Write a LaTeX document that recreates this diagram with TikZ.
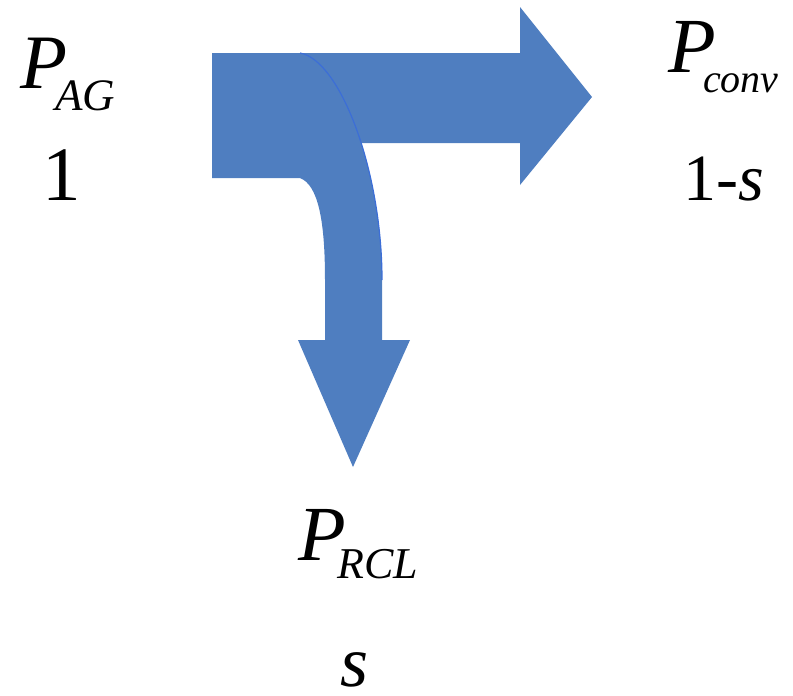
\documentclass[tikz,border=0pt]{standalone}
\usepackage{fontspec}
\setmainfont{Liberation Serif}
\definecolor{arrowblue}{RGB}{79,126,192}
\definecolor{seamblue}{RGB}{60,110,215}
\tikzset{
  lbl/.style={inner sep=0pt, anchor=base west, text depth=0pt},
  flow/.style={fill=arrowblue, draw=none}
}
\newcommand{\fsz}[1]{\fontsize{#1}{#1}\selectfont}
\newcommand{\psub}[5]{{\fsz{#1}\itshape P}\kern#3pt\raisebox{-#4pt}{\fsz{#2}\itshape #5}}
\begin{document}
\begin{tikzpicture}[x=1pt,y=-1pt]
\useasboundingbox (0,0) rectangle (793,696);
% straight arrow to the right
\fill[flow] (212,53) -- (520,53) -- (520,7) -- (592,97) -- (520,185) -- (520,143) -- (212,143) -- cycle;
% bent arrow going down
\path[flow] (212,53) -- (300,53) .. controls (340,60) and (382,170) .. (382,280)
  -- (382,340) -- (410,340) -- (353,467) -- (298,340) -- (325,340) -- (325,280)
  .. controls (325,220) and (318,185) .. (300,178) -- (212,178) -- cycle;
\draw[seamblue, line width=1.2] (300,53) .. controls (340,60) and (382,170) .. (382,280);
\fill[arrowblue] (300,53) -- (212,53) -- (212,60) -- (300,60) -- cycle;
% labels
\node[lbl] (pag) at (20,88) {\psub{77}{45}{-12}{22}{AG}};
\node[lbl] (one) at (42,200) {\fsz{77}1};
\node[lbl] (pconv) at (668,72) {\psub{78}{40}{-12.7}{20}{conv}};
\node[lbl] (ones) at (683,200) {\fsz{66}1-\itshape s};
\node[lbl] (prcl) at (298,560) {\psub{78}{44}{-8.7}{18}{RCL}};
\node[lbl] (s) at (340,686) {\fsz{72}\itshape s};
\end{tikzpicture}
\end{document}
